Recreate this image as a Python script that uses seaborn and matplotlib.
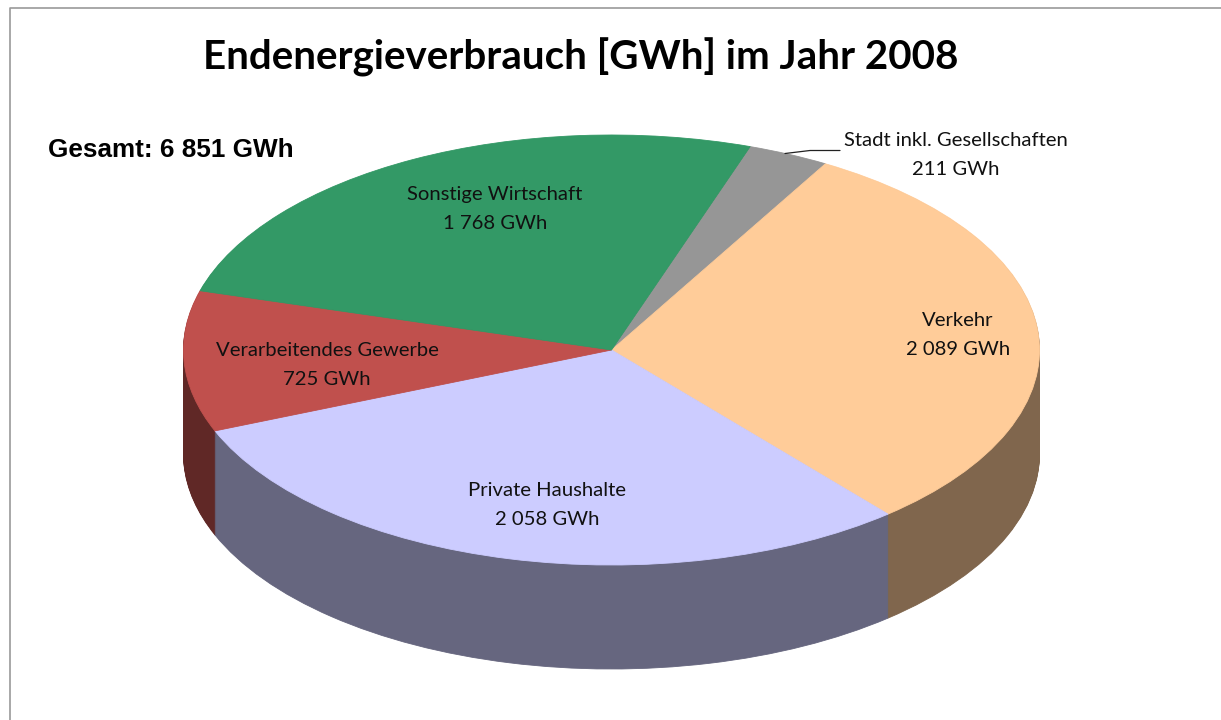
import matplotlib
matplotlib.use("Agg")
import matplotlib.pyplot as plt
from matplotlib.lines import Line2D
import seaborn as sns

categories = ["Stadt inkl. Gesellschaften", "Verkehr", "Private Haushalte",
              "Verarbeitendes Gewerbe", "Sonstige Wirtschaft"]
values = [211, 2089, 2058, 725, 1768]
value_labels = ["211 GWh", "2 089 GWh", "2 058 GWh", "725 GWh", "1 768 GWh"]
top_colors = ["#969696", "#FFCC99", "#CCCCFF", "#C0504D", "#339966"]
wall_colors = ["#4B4B4B", "#80664D", "#66667F", "#602826", "#1A4D33"]
title = "Endenergieverbrauch [GWh] im Jahr 2008"
total_text = "Gesamt: 6 851 GWh"

W, H = 1221, 720
CX, CY = 611.5, 350   # pie centre in pixels
RX, RY = 428, 215     # ellipse radii in pixels
DEPTH = 104           # height of the side wall in pixels
START = 71.1

sns.set_theme(style="white")
plt.rcParams["font.family"] = ["Lato", "DejaVu Sans"]

fig = plt.figure(figsize=(W / 100, H / 100), dpi=100)
ax = fig.add_axes([0, 0, 1, 1])


def px(x, y):
    return (x - CX) / RX, (CY - y) / RY


def draw_pie(colors, offset):
    wedges, _ = ax.pie(values, colors=sns.color_palette(colors), startangle=START, counterclock=False,
                       center=(0, -offset / RY), radius=1, frame=False, normalize=True)
    for w in wedges:
        w.set_edgecolor(w.get_facecolor())
        w.set_linewidth(0.6)


# side wall: stack of dark pies from the bottom up, then the lit top
for offset in range(DEPTH, 0, -1):
    draw_pie(wall_colors, offset)
draw_pie(top_colors, 0)

ax.set_aspect("auto")
ax.set_xlim(px(0, 0)[0], px(W, 0)[0])
ax.set_ylim(px(0, H)[1], px(0, 0)[1])
ax.axis("off")

label_pos = {"Verkehr": (958, 335), "Private Haushalte": (547, 505),
             "Verarbeitendes Gewerbe": (327, 365), "Sonstige Wirtschaft": (495, 209),
             "Stadt inkl. Gesellschaften": (956, 155)}
for name, val in zip(categories, value_labels):
    x, y = px(*label_pos[name])
    ax.text(x, y, name + "\n" + val, ha="center", va="center", fontsize=14.6,
            color="#111111", linespacing=1.82)

# leader line for the small slice
lx, ly = zip(px(785, 153.5), px(810, 150.5), px(840, 150.5))
ax.plot(lx, ly, color="#222222", lw=0.9)

fig.text(581 / W, 1 - 57 / H, title, ha="center", va="center", fontsize=29, fontweight="bold",
         color="black")
fig.text(171 / W, 1 - 150 / H, total_text, ha="center", va="center", fontsize=18.8,
         fontweight="bold", color="black", family=["Liberation Sans", "DejaVu Sans"])

# chart frame, only the left and top edges are inside the picture
fig.add_artist(Line2D([9.5 / W, 9.5 / W, 1], [0, 1 - 7.5 / H, 1 - 7.5 / H], color="#9A9A9A", lw=1.2))

fig.savefig("out.png", dpi=100)
